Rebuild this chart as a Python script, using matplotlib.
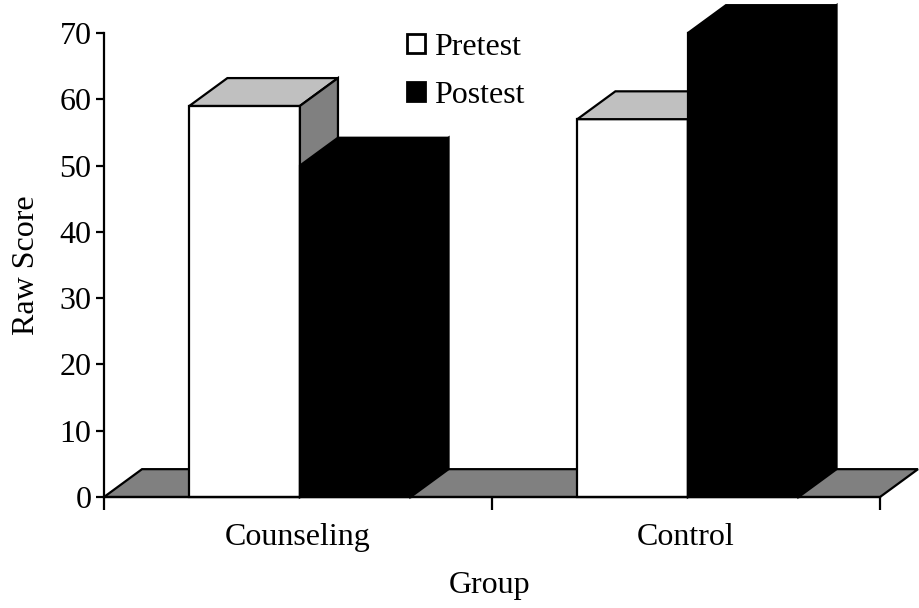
import matplotlib
matplotlib.use("Agg")
import matplotlib.pyplot as plt
from matplotlib.patches import Polygon, Patch

# ---- data ---------------------------------------------------------------
groups = ["Counseling", "Control"]
pretest = [59, 57]
postest = [50, 70]
series_names = ["Pretest", "Postest"]

# ---- look ---------------------------------------------------------------
plt.rcParams["font.family"] = ["Liberation Serif", "DejaVu Serif"]
FS = 23
LW = 1.6
BAR_W = 0.285
DX, DY = 0.098, 4.2      # depth offset of the 3d look (x units, y units)

fig = plt.figure(figsize=(9.19, 6.08), dpi=100)
ax = fig.add_axes([104 / 919, 111 / 608, 776 / 919, 464 / 608])
ax.set_xlim(0, 2)
ax.set_ylim(0, 70)


def poly(pts, fc, z, ec="black"):
    p = Polygon(pts, closed=True, facecolor=fc, edgecolor=ec, linewidth=LW,
                joinstyle="miter", clip_on=False, zorder=z)
    ax.add_patch(p)


def bar3d(x0, h, front, top, side, z):
    x1 = x0 + BAR_W
    poly([(x0, 0), (x1, 0), (x1, h), (x0, h)], front, z)
    poly([(x0, h), (x1, h), (x1 + DX, h + DY), (x0 + DX, h + DY)], top, z)
    poly([(x1, 0), (x1 + DX, DY), (x1 + DX, h + DY), (x1, h)], side, z)


# floor
poly([(0, 0), (2, 0), (2 + DX, DY), (DX, DY)], "#808080", 1)

z = 2
for i in range(len(groups)):
    c = i + 0.5
    bar3d(c - BAR_W + 0.005, pretest[i], "white", "#c0c0c0", "#808080", z)
    bar3d(c + 0.005, postest[i], "black", "black", "black", z + 1)
    z += 2

# axes styling
for s in ["top", "right"]:
    ax.spines[s].set_visible(False)
ax.spines["left"].set_linewidth(LW)
ax.spines["bottom"].set_linewidth(LW)
ax.spines["left"].set_zorder(10)
ax.spines["bottom"].set_zorder(10)

ax.set_yticks(range(0, 71, 10))
ax.tick_params(axis="y", labelsize=FS, length=6, width=LW, pad=3, direction="out")
ax.set_xticks([0, 1, 2])
ax.set_xticklabels([])
ax.tick_params(axis="x", which="major", length=9, width=LW, direction="out")
ax.set_xticks([0.5, 1.5], minor=True)
ax.set_xticklabels(groups, minor=True)
ax.tick_params(axis="x", which="minor", length=0, labelsize=FS, pad=19)

ax.set_ylabel("Raw Score", fontsize=FS)
ax.yaxis.set_label_coords(-0.1, 0.5)
ax.yaxis.label.set_va("center")
ax.set_xlabel("Group", fontsize=FS)
ax.xaxis.set_label_coords(0.497, -0.19)
ax.xaxis.label.set_va("center")

handles = [Patch(facecolor="white", edgecolor="black", linewidth=2),
           Patch(facecolor="black", edgecolor="black", linewidth=2)]
fig.legend(handles, series_names, loc="upper left",
           bbox_to_anchor=(407 / 919, 1 - 33 / 608),
           frameon=False, fontsize=FS, handlelength=0.56, handleheight=0.56,
           handletextpad=0.3, labelspacing=0.58, borderpad=0, borderaxespad=0)

fig.savefig("out.png", dpi=100)
